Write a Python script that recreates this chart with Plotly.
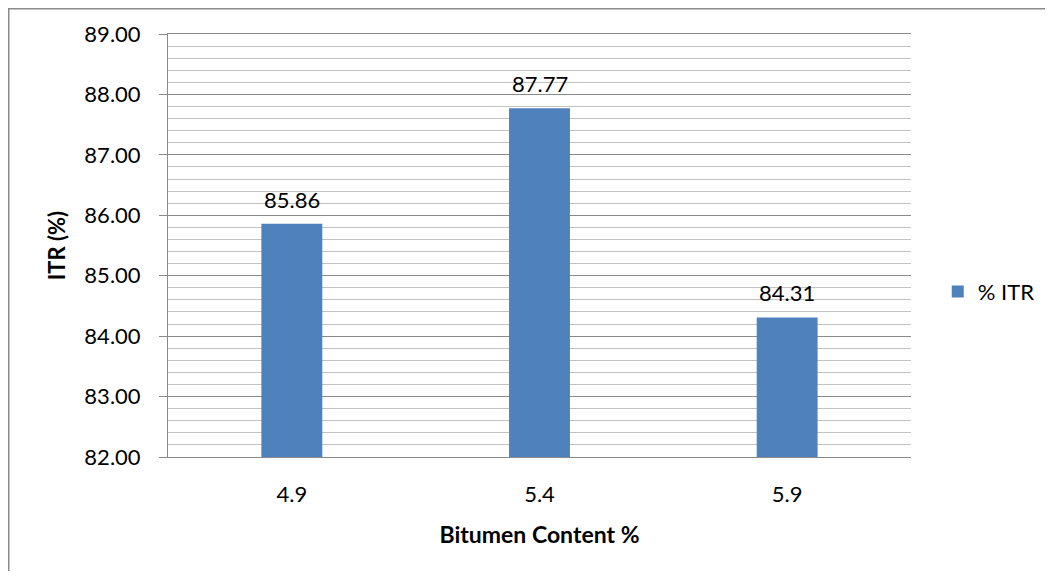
import plotly.graph_objects as go

categories = ["4.9", "5.4", "5.9"]
itr_values = [85.86, 87.77, 84.31]
tick_vals = [82, 83, 84, 85, 86, 87, 88, 89]
tick_text = ["82.00", "83.00", "84.00", "85.00", "86.00", "87.00", "88.00", "89.00"]
series_name = "% ITR"

FONT = "Lato"
FS = 22
AXC = "#8a8a8a"

fig = go.Figure()
fig.add_trace(go.Bar(
    x=categories, y=itr_values, name=series_name,
    marker=dict(color="#4F81BD", line=dict(width=0)),
))

for i, v in enumerate(itr_values):
    fig.add_annotation(x=i, y=v, text=f"{v:.2f}", showarrow=False,
                       yanchor="bottom", yshift=9,
                       font=dict(family=FONT, size=FS, color="#000000"))

fig.update_layout(
    width=1037, height=563,
    margin=dict(l=160, r=134, t=26, b=114, autoexpand=False),
    paper_bgcolor="white", plot_bgcolor="white",
    bargap=0.754,
    showlegend=True,
    legend=dict(x=1.036, y=0.391, xanchor="left", yanchor="middle",
                font=dict(family=FONT, size=FS, color="#000000"),
                bgcolor="rgba(0,0,0,0)"),
    font=dict(family=FONT, size=FS, color="#000000"),
    xaxis=dict(
        type="category", range=[-0.5, 2.5], showgrid=False, showline=True, mirror=True,
        linecolor=AXC, linewidth=1, ticks="",
        tickfont=dict(family=FONT, size=FS),
        ticklabelstandoff=18,
        title=dict(text="<b>Bitumen Content %</b>", font=dict(family=FONT, size=23), standoff=20),
    ),
    yaxis=dict(
        range=[82, 89], tickvals=tick_vals, ticktext=tick_text,
        showgrid=True, gridcolor=AXC, gridwidth=1,
        minor=dict(dtick=0.2, showgrid=True, gridcolor="#c2c2c2", gridwidth=1, ticks=""),
        showline=True, linecolor=AXC, linewidth=1,
        ticks="outside", ticklen=8, tickcolor=AXC,
        tickfont=dict(family=FONT, size=FS),
        ticklabelstandoff=14,
        title=dict(text="<b>ITR (%)</b>", font=dict(family=FONT, size=FS), standoff=12),
        zeroline=False,
    ),
    shapes=[dict(type="rect", xref="paper", yref="paper",
                 x0=(0.75 - 160) / 743, x1=1.3,
                 y0=-0.4, y1=1 + (26 - 0.75) / 423,
                 line=dict(color=AXC, width=1.5), fillcolor="rgba(0,0,0,0)",
                 layer="below")],
)

fig.write_html("out.html")
